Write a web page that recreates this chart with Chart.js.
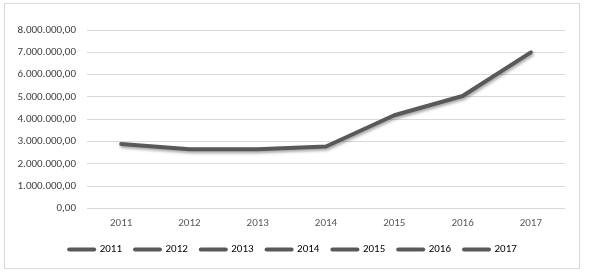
<!DOCTYPE html>
<html lang="en">
<head>
    <meta charset="UTF-8">
    <title>Line chart 2011-2017</title>
    <script src="https://cdn.jsdelivr.net/npm/chart.js"></script>
    <style>
        html, body { margin: 0; padding: 0; background: #fff; }
        #wrap { position: relative; width: 589px; height: 275px; }
        #frame {
            position: absolute; left: 4px; top: 3px; width: 574px; height: 264px;
            border: 1px solid #d9d9d9; pointer-events: none;
        }
    </style>
</head>
<body>
    <div id="wrap">
        <canvas id="myChart" width="589" height="275"></canvas>
        <div id="frame"></div>
    </div>
    <script>
        const years = ['2011', '2012', '2013', '2014', '2015', '2016', '2017'];
        const values = [2890000, 2660000, 2660000, 2780000, 4180000, 5040000, 7000000];
        const yTicks = [0, 1000000, 2000000, 3000000, 4000000, 5000000, 6000000, 7000000, 8000000];

        const lineColor = '#595959';
        const fontFamily = "Carlito, 'Liberation Sans', Arial, sans-serif";

        // 1234567 -> "1.234.567,00"
        function formatNumber(v) {
            const s = Math.round(v).toString().replace(/\B(?=(\d{3})+(?!\d))/g, '.');
            return s + ',00';
        }

        // soft drop shadow under the line, like the office chart
        const lineShadow = {
            id: 'lineShadow',
            beforeDatasetDraw(chart) {
                const ctx = chart.ctx;
                ctx.save();
                ctx.shadowColor = 'rgba(0,0,0,0.35)';
                ctx.shadowBlur = 3;
                ctx.shadowOffsetX = 1;
                ctx.shadowOffsetY = 2;
            },
            afterDatasetDraw(chart) {
                chart.ctx.restore();
            }
        };

        const ctx = document.getElementById('myChart');
        const myChart = new Chart(ctx, {
            type: 'line',
            data: {
                labels: years,
                datasets: [{
                    label: 'Valores',
                    data: values,
                    borderColor: lineColor,
                    borderWidth: 4,
                    borderCapStyle: 'round',
                    borderJoinStyle: 'round',
                    pointRadius: 0,
                    tension: 0,
                    fill: false
                }]
            },
            options: {
                responsive: false,
                animation: false,
                layout: {
                    padding: { left: 0, right: 3, top: 30, bottom: 10 }
                },
                plugins: {
                    tooltip: { enabled: false },
                    legend: {
                        position: 'bottom',
                        labels: {
                            usePointStyle: true,
                            pointStyle: 'line',
                            pointStyleWidth: 25,
                            padding: 13,
                            color: '#1a1a1a',
                            font: { family: fontFamily, size: 11 },
                            generateLabels() {
                                return years.map((y) => ({
                                    text: y,
                                    fillStyle: lineColor,
                                    strokeStyle: lineColor,
                                    lineWidth: 4,
                                    lineCap: 'round',
                                    pointStyle: 'line',
                                    hidden: false,
                                    datasetIndex: 0
                                }));
                            }
                        }
                    }
                },
                scales: {
                    x: {
                        offset: true,
                        grid: { display: false, drawTicks: false },
                        border: { display: false },
                        ticks: {
                            padding: 8,
                            color: '#595959',
                            font: { family: fontFamily, size: 11 }
                        },
                        afterFit(scale) { scale.height = 22.5; }
                    },
                    y: {
                        min: 0,
                        max: 8000000,
                        afterBuildTicks(scale) {
                            scale.ticks = yTicks.map((v) => ({ value: v }));
                        },
                        grid: { color: '#d9d9d9', lineWidth: 1, drawTicks: false },
                        border: { display: false },
                        ticks: {
                            padding: 11,
                            color: '#404040',
                            font: { family: fontFamily, size: 11 }
                        , callback: (v) => formatNumber(v)
                        },
                        afterFit(scale) { scale.width = 87; }
                    },
                    // empty right axis, only keeps space right of the plot
                    yRight: {
                        position: 'right',
                        grid: { display: false, drawTicks: false },
                        border: { display: false },
                        ticks: { display: false },
                        afterFit(scale) { scale.width = 21; }
                    }
                }
            },
            plugins: [lineShadow]
        });
    </script>
</body>
</html>
